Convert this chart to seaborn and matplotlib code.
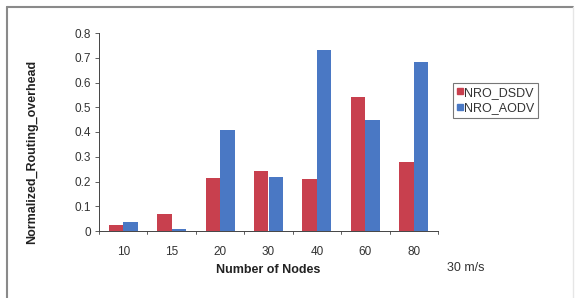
import matplotlib
matplotlib.use('Agg')
import matplotlib.pyplot as plt
import pandas as pd
import seaborn as sns
from matplotlib.lines import Line2D

nodes = ['10', '15', '20', '30', '40', '60', '80']
nro_dsdv = [0.024, 0.069, 0.213, 0.242, 0.209, 0.543, 0.278]
nro_aodv = [0.035, 0.009, 0.410, 0.220, 0.731, 0.449, 0.684]
series = ['NRO_DSDV', 'NRO_AODV']
colors = ['#C8404E', '#4A78C4']

df = pd.DataFrame({
    'nodes': nodes * 2,
    'value': nro_dsdv + nro_aodv,
    'series': [series[0]] * len(nodes) + [series[1]] * len(nodes),
})

sns.set_style('white')
plt.rcParams['font.family'] = ['Liberation Sans', 'DejaVu Sans']

fig = plt.figure(figsize=(5.79, 2.98), dpi=100)
ax = fig.add_axes([99 / 579, 1 - 231 / 298, (438 - 99) / 579, (231 - 33) / 298])

sns.barplot(data=df, x='nodes', y='value', hue='series', palette=colors,
            width=0.6, saturation=1, linewidth=0, ax=ax, legend=False)

ax.set_ylim(0, 0.8)
ax.set_xlim(-0.5, len(nodes) - 0.5)
ax.set_yticks([i / 10 for i in range(9)])
ax.set_yticklabels(['0'] + ['%.1f' % (i / 10) for i in range(1, 9)], fontsize=8.5, color='#333333')
ax.tick_params(axis='x', length=0, labelsize=8.5, labelcolor='#333333', pad=11)
ax.tick_params(axis='y', length=3, width=0.6, direction='out', left=True, color='#444444', pad=3)
# excel-style tick marks between categories
for b in [i - 0.5 for i in range(len(nodes) + 1)]:
    ax.plot([b, b], [0, -0.012], color='#444444', lw=0.6, clip_on=False)

for side in ['top', 'right']:
    ax.spines[side].set_visible(False)
for side in ['left', 'bottom']:
    ax.spines[side].set_color('#444444')
    ax.spines[side].set_linewidth(0.7)

ax.set_xlabel('Number of Nodes', fontsize=9, fontweight='bold', labelpad=4, color='#222222')
ax.set_ylabel('Normalized_Routing_overhead', fontsize=9, fontweight='bold', color='#222222')
ax.yaxis.set_label_coords(-(99 - 38) / (438 - 99), (231 - 152) / (231 - 33))

handles = [Line2D([], [], marker='s', linestyle='', markersize=4.5, color=c) for c in colors]
leg = fig.legend(handles, series, loc='upper left', bbox_to_anchor=(453 / 579, 1 - 83 / 298),
                 fontsize=9, frameon=True, fancybox=False, handlelength=0.5, handletextpad=0.1,
                 borderpad=0.3, labelspacing=0.3, borderaxespad=0, labelcolor='#333333')
leg.get_frame().set_edgecolor('#555555')
leg.get_frame().set_linewidth(0.8)

fig.text(447 / 579, 1 - 268 / 298, '30 m/s', fontsize=9, color='#333333', va='center')

# outer frame
fig.add_artist(Line2D([7 / 579, 573 / 579], [1 - 7 / 298, 1 - 7 / 298], color='#8a8a8a', lw=1.5))
fig.add_artist(Line2D([7 / 579, 7 / 579], [0, 1 - 7 / 298], color='#8a8a8a', lw=1.5))
fig.add_artist(Line2D([573 / 579, 573 / 579], [0, 1 - 7 / 298], color='#e6e6e6', lw=1))

fig.savefig('out.png', dpi=100)
